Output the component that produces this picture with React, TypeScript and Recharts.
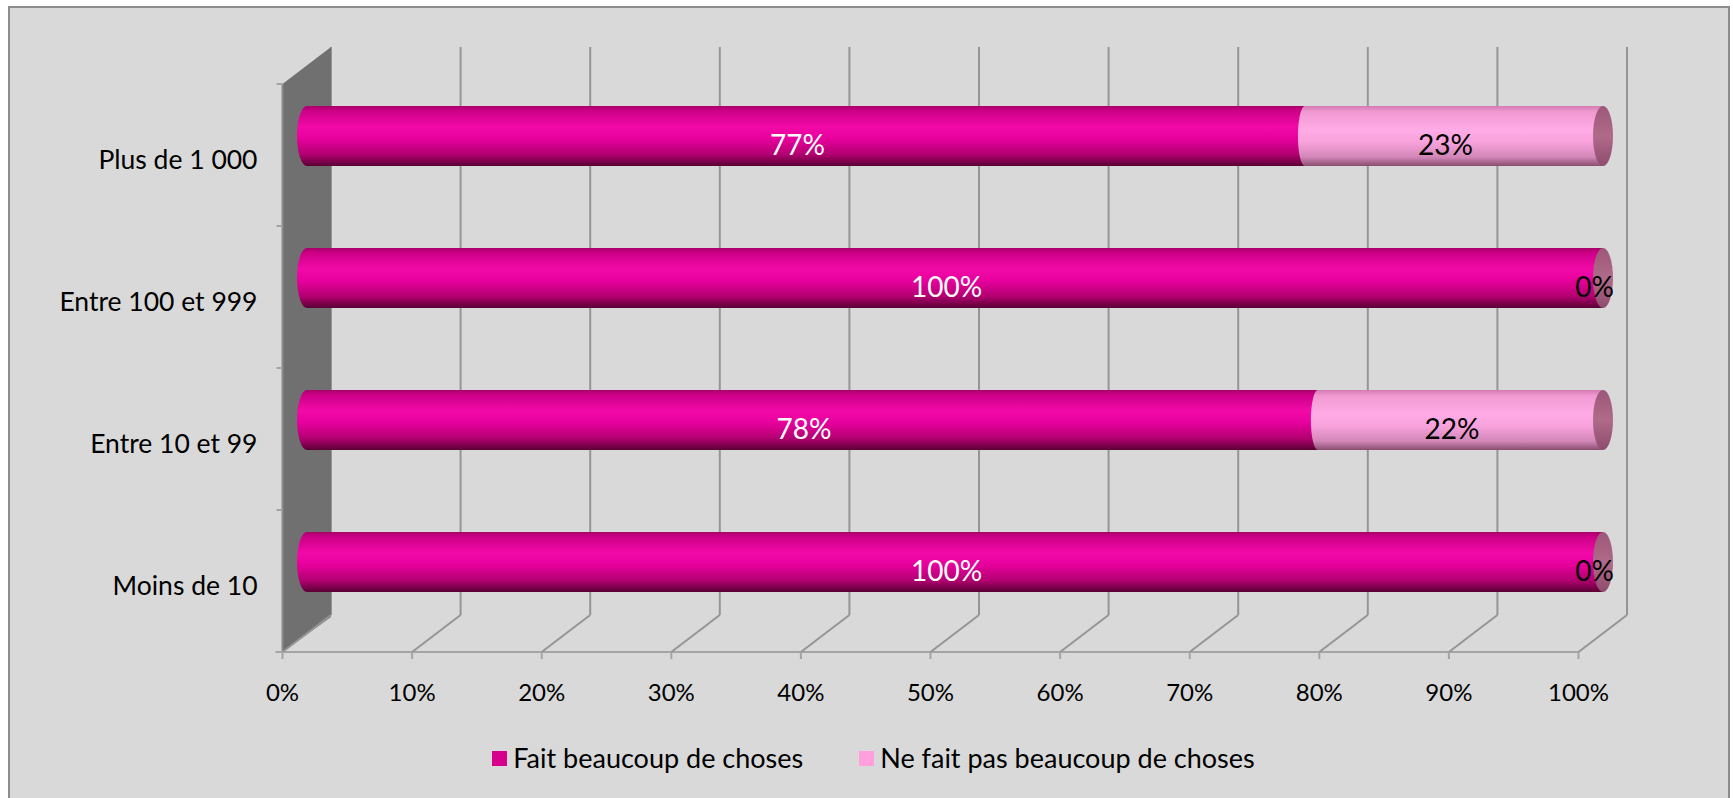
import React from "react";
import {
  BarChart,
  Bar,
  XAxis,
  YAxis,
  CartesianGrid,
  Legend,
  LabelList,
  ReferenceArea,
} from "recharts";

// ---------- data ----------
const categories = ["Plus de 1 000", "Entre 100 et 999", "Entre 10 et 99", "Moins de 10"];
const faitValues = [77, 100, 78, 100];
const neFaitValues = [23, 0, 22, 0];
const xTickValues = [0, 10, 20, 30, 40, 50, 60, 70, 80, 90, 100];
const seriesNames = ["Fait beaucoup de choses", "Ne fait pas beaucoup de choses"];
const seriesColors = ["#d6008c", "#ff9fdc"];

const data = categories.map((name, i) => ({
  name,
  fait: faitValues[i],
  nefait: neFaitValues[i],
}));

// ---------- layout ----------
const W = 1733;
const H = 798;
const FONT = "Lato, 'Open Sans', sans-serif";
const MARGIN = { top: 65, right: 130, bottom: 135, left: 107 };
const Y_AXIS_W = 200;
const X_AXIS_H = 30;
const PLOT_LEFT = MARGIN.left + Y_AXIS_W;
const PLOT_TOP = MARGIN.top;
const PLOT_BOTTOM = H - MARGIN.bottom - X_AXIS_H;
const PLOT_W = W - PLOT_LEFT - MARGIN.right;
const BAND = (PLOT_BOTTOM - PLOT_TOP) / categories.length;
const FRONT_DX = -24.5;
const FRONT_DY = 19;
const BACK_DX = 24;
const BACK_DY = -18;
const CAP_RX = 10;
const GRID = "#959595";
const AXIS = "#a4a4a4";

const FrontTick = (props: any) => {
  const { x, payload, index, width } = props;
  const cx = payload && typeof payload.coordinate === "number" ? payload.coordinate : x;
  const fx = cx + FRONT_DX;
  const bx = cx + BACK_DX;
  const yf = PLOT_BOTTOM + FRONT_DY;
  const yb = PLOT_BOTTOM + BACK_DY;
  const axisW = typeof width === "number" && width > 0 ? width : PLOT_W;
  return (
    <g>
      {index === 0 && (
        <line x1={fx - 7} y1={yf} x2={fx + axisW} y2={yf} stroke={AXIS} strokeWidth={2} />
      )}
      <line x1={bx} y1={yb} x2={fx} y2={yf} stroke={GRID} strokeWidth={2} />
      <line x1={fx} y1={yf} x2={fx} y2={yf + 7} stroke={AXIS} strokeWidth={2} />
      <text
        x={fx}
        y={yf + 49}
        textAnchor="middle"
        fontFamily={FONT}
        fontSize={24}
        fill="#000"
      >
        {payload.value}%
      </text>
    </g>
  );
};

const CatTick = (props: any) => {
  const { payload, index } = props;
  const cy = payload.coordinate;
  const fx = PLOT_LEFT + FRONT_DX;
  const top = cy + FRONT_DY - BAND / 2;
  return (
    <g>
      <line x1={fx - 6} y1={top} x2={fx} y2={top} stroke={AXIS} strokeWidth={2} />
      {index === categories.length - 1 && (
        <line x1={fx - 6} y1={top + BAND} x2={fx} y2={top + BAND} stroke={AXIS} strokeWidth={2} />
      )}
      <text
        x={fx - 25}
        y={cy + 32.5}
        textAnchor="end"
        fontFamily={FONT}
        fontSize={26.5}
        fill="#000"
      >
        {payload.value}
      </text>
    </g>
  );
};

const WallShape = (props: any) => {
  const { x, y, height } = props;
  const fx = x + FRONT_DX;
  const bx = x + BACK_DX;
  const pts = [
    [fx, y + FRONT_DY],
    [bx, y + BACK_DY],
    [bx, y + height + BACK_DY + 2],
    [fx, y + height + FRONT_DY],
  ]
    .map((p) => p.join(","))
    .join(" ");
  return (
    <g>
      <polygon points={pts} fill="#707070" />
      <line x1={fx} y1={y + FRONT_DY} x2={fx} y2={y + height + FRONT_DY} stroke="#8a8a8a" strokeWidth={2} />
    </g>
  );
};

const FaitShape = (props: any) => {
  const { x, y, width, height } = props;
  if (!(height > 0) || !(width > 0)) return null;
  const ry = height / 2;
  const d = `M${x},${y} H${x + width} V${y + height} H${x} A${CAP_RX},${ry} 0 0 1 ${x},${y} Z`;
  return <path d={d} fill="url(#gFait)" />;
};

const NeFaitShape = (props: any) => {
  const { x, y, width, height } = props;
  if (!(height > 0)) return null;
  const ry = height / 2;
  const cy = y + ry;
  const w = width > 0 ? width : 0;
  const lrx = 7;
  const d = `M${x},${y} H${x + w} V${y + height} H${x} A${lrx},${ry} 0 0 1 ${x},${y} Z`;
  return (
    <g>
      {w > 0 && <path d={d} fill="url(#gNeFait)" />}
      <ellipse cx={x + w} cy={cy} rx={CAP_RX} ry={ry} fill="url(#gCap)" />
    </g>
  );
};

const makeLabel = (color: string) => (p: any) => {
  const vb = p.viewBox && typeof p.viewBox.x === "number" ? p.viewBox : p;
  const x = Number(vb.x);
  const y = Number(vb.y);
  const w = Number(vb.width) || 0;
  const h = Number(vb.height) || 0;
  return (
    <text
      x={x + w / 2 - 8.5}
      y={y + h / 2 + 19}
      textAnchor="middle"
      fontFamily={FONT}
      fontSize={28}
      fill={color}
    >
      {p.value}%
    </text>
  );
};

const LegendContent = (props: any) => {
  const payload = props.payload || [];
  return (
    <div
      style={{
        display: "flex",
        justifyContent: "center",
        alignItems: "center",
        paddingLeft: 14,
        fontFamily: FONT,
        fontSize: 27,
        color: "#000",
        lineHeight: "32px",
      }}
    >
      {payload.map((p: any, i: number) => (
        <div
          key={i}
          style={{
            display: "flex",
            alignItems: "center",
            marginRight: i < payload.length - 1 ? 56 : 0,
          }}
        >
          <span
            style={{
              width: 15,
              height: 15,
              background: p.color,
              marginRight: 6,
              display: "inline-block",
            }}
          />
          <span>{p.value}</span>
        </div>
      ))}
    </div>
  );
};

export default function App() {
  return (
    <div style={{ position: "absolute", left: 0, top: 0, width: W, height: H, overflow: "hidden", background: "#fff" }}>
      <svg width={0} height={0} style={{ position: "absolute" }}>
        <defs>
          <linearGradient id="gFait" x1="0" y1="0" x2="0" y2="1">
            <stop offset="0" stopColor="#a8006a" />
            <stop offset="0.08" stopColor="#cc0086" />
            <stop offset="0.35" stopColor="#f20aa8" />
            <stop offset="0.55" stopColor="#e6009c" />
            <stop offset="0.8" stopColor="#b40072" />
            <stop offset="1" stopColor="#5a0034" />
          </linearGradient>
          <linearGradient id="gNeFait" x1="0" y1="0" x2="0" y2="1">
            <stop offset="0" stopColor="#d27cb2" />
            <stop offset="0.1" stopColor="#f29ad2" />
            <stop offset="0.4" stopColor="#ffabe6" />
            <stop offset="0.6" stopColor="#f9a2dc" />
            <stop offset="0.85" stopColor="#d287b8" />
            <stop offset="1" stopColor="#8a4e70" />
          </linearGradient>
          <linearGradient id="gCap" x1="0" y1="0" x2="0" y2="1">
            <stop offset="0" stopColor="#9c5878" />
            <stop offset="0.5" stopColor="#b06a8a" />
            <stop offset="1" stopColor="#8e4c6c" />
          </linearGradient>
        </defs>
      </svg>
      <div
        style={{
          position: "absolute",
          left: 8,
          top: 6,
          width: 1722,
          height: 820,
          boxSizing: "border-box",
          border: "2px solid #8c8c8c",
          background: "#d9d9d9",
        }}
      />
      <div style={{ position: "absolute", left: 0, top: 0, width: W, height: H }}>
        <BarChart
          width={W}
          height={H}
          data={data}
          layout="vertical"
          margin={MARGIN}
          barSize={60}
        >
          <CartesianGrid
            horizontal={false}
            vertical={true}
            stroke={GRID}
            strokeWidth={2}
            x={PLOT_LEFT + BACK_DX}
            y={PLOT_TOP + BACK_DY}
            width={PLOT_W}
            height={PLOT_BOTTOM - PLOT_TOP}
            verticalCoordinatesGenerator={(args: any) => {
              const off = args && args.offset ? args.offset : { left: PLOT_LEFT, width: PLOT_W };
              return xTickValues.map((t) => off.left + (t / 100) * off.width + BACK_DX);
            }}
          />
          <ReferenceArea x1={0} x2={100} shape={WallShape} ifOverflow="visible" />
          <XAxis
            type="number"
            domain={[0, 100]}
            ticks={xTickValues}
            interval={0}
            axisLine={false}
            tickLine={false}
            height={X_AXIS_H}
            tick={FrontTick}
          />
          <YAxis
            type="category"
            dataKey="name"
            width={Y_AXIS_W}
            axisLine={false}
            tickLine={false}
            interval={0}
            tick={CatTick}
          />
          <Bar
            dataKey="fait"
            name={seriesNames[0]}
            stackId="s"
            fill={seriesColors[0]}
            shape={FaitShape}
            isAnimationActive={false}
          >
            <LabelList dataKey="fait" content={makeLabel("#ffffff")} />
          </Bar>
          <Bar
            dataKey="nefait"
            name={seriesNames[1]}
            stackId="s"
            fill={seriesColors[1]}
            shape={NeFaitShape}
            isAnimationActive={false}
          >
            <LabelList dataKey="nefait" content={makeLabel("#000000")} />
          </Bar>
          <Legend
            verticalAlign="middle"
            align="center"
            content={LegendContent}
            wrapperStyle={{ top: 742, left: 0, width: W, height: 36 }}
          />
        </BarChart>
      </div>
    </div>
  );
}
